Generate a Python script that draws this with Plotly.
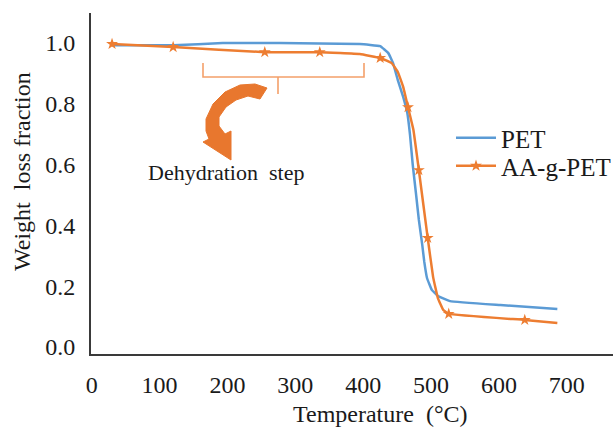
import plotly.graph_objects as go

# ---- data ----
temp_pet = [30, 120, 193, 277, 395, 425, 437, 444, 451, 459, 465, 469, 473, 478, 482, 487, 490, 494, 501, 510, 528, 602, 686]
w_pet = [0.993, 0.993, 1.0, 1.0, 0.997, 0.990, 0.967, 0.934, 0.878, 0.822, 0.770, 0.697, 0.599, 0.500, 0.418, 0.336, 0.280, 0.227, 0.188, 0.168, 0.151, 0.138, 0.125]

temp_aa = [30, 120, 255, 336, 395, 425, 442, 451, 459, 466, 474, 482, 495, 503, 510, 518, 526, 638, 686]
w_aa = [0.997, 0.987, 0.970, 0.970, 0.964, 0.951, 0.934, 0.905, 0.855, 0.789, 0.714, 0.582, 0.359, 0.230, 0.161, 0.122, 0.109, 0.089, 0.079]

temp_aa_markers = [30, 120, 255, 336, 425, 466, 482, 495, 526, 638]
w_aa_markers = [0.997, 0.987, 0.970, 0.970, 0.951, 0.789, 0.582, 0.359, 0.109, 0.089]

x_ticks = [0, 100, 200, 300, 400, 500, 600, 700]
y_ticks = [0.0, 0.2, 0.4, 0.6, 0.8, 1.0]

BLUE = "#5B9BD5"
ORANGE = "#ED7D31"
FONT = "Liberation Serif"
TXT = "#1a1a1a"

W, H = 615, 427
L, R, T, B = 91, 2, 13, 73
pw, ph = W - L - R, H - T - B
X0, X1 = -1, 768
Y0, Y1 = -0.023, 1.099

# pixel -> data helpers for the decorative drawing (bracket / curved arrow)
def px2t(px):
    return X0 + (px - L) * (X1 - X0) / pw

def py2w(py):
    return Y0 + ((H - B) - py) * (Y1 - Y0) / ph

fig = go.Figure()
fig.add_trace(go.Scatter(x=temp_pet, y=w_pet, mode="lines", name="PET", legend="legend",
                         line=dict(color=BLUE, width=2.5, shape="spline", smoothing=0.25)))
fig.add_trace(go.Scatter(x=temp_aa, y=w_aa, mode="lines", showlegend=False,
                         line=dict(color=ORANGE, width=2.5, shape="spline", smoothing=0.25)))
fig.add_trace(go.Scatter(x=temp_aa_markers, y=w_aa_markers, mode="markers", showlegend=False,
                         marker=dict(symbol="star", size=9, color=ORANGE)))
fig.add_trace(go.Scatter(x=[None], y=[None], mode="lines+markers", name="AA-g-PET", legend="legend2",
                         line=dict(color=ORANGE, width=2.5),
                         marker=dict(symbol="star", size=9, color=ORANGE)))

# bracket
bx0, bx1, bxm = px2t(203), px2t(364), px2t(278)
by_top, by_h, by_m = py2w(63), py2w(77), py2w(94)
bracket = (f"M{bx0},{by_top} L{bx0},{by_h} L{bx1},{by_h} L{bx1},{by_top} "
           f"M{bxm},{by_h} L{bxm},{by_m}")
fig.add_shape(type="path", path=bracket, xref="x", yref="y",
              line=dict(color="#F4A06A", width=1.6))

# curved fat arrow
arrow_px = [(267, 88), (255, 84), (240, 85), (225, 92), (213, 104), (206, 119), (206, 131), (209, 139),
            (203, 142), (231, 160), (231, 131), (225, 134),
            (219, 126), (219, 117), (226, 107), (236, 100), (248, 96), (260, 99)]
arrow = "M" + " L".join(f"{px2t(a)},{py2w(b)}" for a, b in arrow_px) + " Z"
fig.add_shape(type="path", path=arrow, xref="x", yref="y",
              fillcolor="#E8772E", line=dict(color="#E8772E", width=1))

fig.add_annotation(x=px2t(226), y=py2w(172), xref="x", yref="y", text="Dehydration\u00a0 step",
                   showarrow=False, font=dict(family=FONT, size=22, color=TXT))

# axis titles
fig.add_annotation(x=(380 - L) / pw, y=-(414 - (H - B)) / ph, xref="paper", yref="paper",
                   text="Temperature\u00a0 (°C)", showarrow=False, xanchor="center", yanchor="middle",
                   font=dict(family=FONT, size=24, color=TXT))
fig.add_annotation(x=(22 - L) / pw, y=((H - B) - 172) / ph, xref="paper", yref="paper",
                   text="Weight\u00a0 loss fraction", showarrow=False, textangle=-90,
                   xanchor="center", yanchor="middle",
                   font=dict(family=FONT, size=24, color=TXT))

leg_common = dict(xanchor="left", yanchor="middle", itemwidth=40,
                  font=dict(family=FONT, size=25, color=TXT), bgcolor="rgba(0,0,0,0)")
fig.update_layout(
    width=W, height=H,
    margin=dict(l=L, r=R, t=T, b=B, autoexpand=False),
    paper_bgcolor="white", plot_bgcolor="white",
    showlegend=True,
    legend=dict(x=(451 - L) / pw, y=((H - B) - 138) / ph, **leg_common),
    legend2=dict(x=(451 - L) / pw, y=((H - B) - 166) / ph, **leg_common),
    xaxis=dict(range=[X0, X1], tickvals=x_ticks, showgrid=False, zeroline=False,
               showline=True, linecolor="#3a3a3a", linewidth=2,
               ticks="outside", ticklen=8, tickcolor="rgba(0,0,0,0)",
               tickfont=dict(family=FONT, size=24, color=TXT)),
    yaxis=dict(range=[Y0, Y1], tickvals=y_ticks, tickformat=".1f",
               showgrid=False, zeroline=False,
               showline=True, linecolor="#3a3a3a", linewidth=2,
               ticks="outside", ticklen=9, tickcolor="rgba(0,0,0,0)",
               tickfont=dict(family=FONT, size=24, color=TXT)),
)

fig.write_html("out.html")
